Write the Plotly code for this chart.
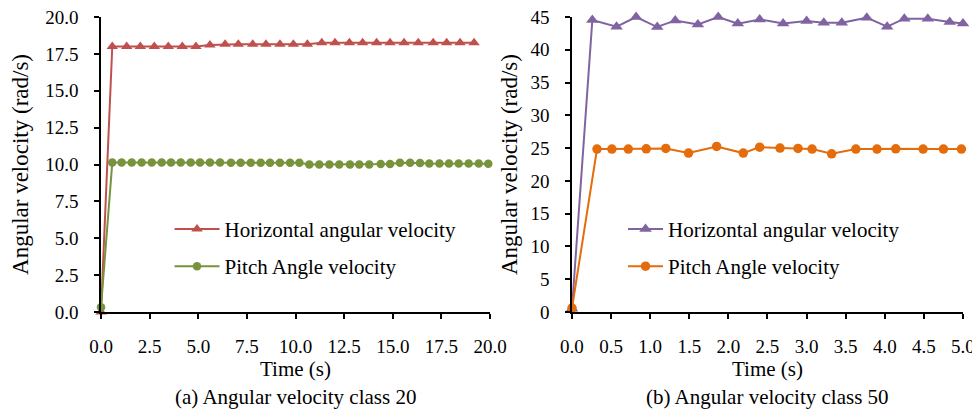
import plotly.graph_objects as go

# ---- data ----
# (a) Angular velocity class 20
t_h20 = [0.0, 0.58, 1.32, 2.02, 2.74, 3.46, 4.18, 4.88, 5.60, 6.38, 7.06, 7.80, 8.48, 9.20, 9.89,
         10.61, 11.35, 12.03, 12.77, 13.45, 14.17, 14.86, 15.58, 16.31, 17.08, 17.77, 18.46, 19.18]
v_h20 = [0.0, 18.0, 18.0, 18.0, 18.0, 18.0, 18.0, 18.0, 18.1, 18.15, 18.15, 18.15, 18.15, 18.15, 18.15,
         18.15, 18.25, 18.25, 18.25, 18.25, 18.25, 18.25, 18.25, 18.25, 18.25, 18.25, 18.25, 18.25]
t_p20 = [0.0, 0.58, 1.06, 1.58, 2.09, 2.61, 3.12, 3.60, 4.10, 4.61, 5.09, 5.60, 6.12, 6.68, 7.18,
         7.70, 8.21, 8.69, 9.20, 9.72, 10.20, 10.71, 11.22, 11.74, 12.25, 12.80, 13.28, 13.79, 14.38,
         14.86, 15.37, 15.89, 16.40, 16.88, 17.40, 17.89, 18.39, 18.90, 19.42, 19.91]
v_p20 = [0.32, 10.13, 10.13, 10.13, 10.13, 10.13, 10.13, 10.13, 10.13, 10.13, 10.13, 10.13, 10.13, 10.12,
         10.12, 10.12, 10.12, 10.12, 10.12, 10.12, 10.12, 10.0, 10.0, 10.0, 10.0, 10.0, 10.0, 10.0, 10.03,
         10.03, 10.12, 10.12, 10.1, 10.06, 10.06, 10.06, 10.06, 10.06, 10.06, 10.05]

# (b) Angular velocity class 50
t_h50 = [0.0, 0.26, 0.57, 0.82, 1.09, 1.32, 1.61, 1.87, 2.12, 2.40, 2.70, 3.00, 3.22, 3.45, 3.77,
         4.03, 4.25, 4.55, 4.83, 5.0]
v_h50 = [0.5, 44.54, 43.52, 45.0, 43.47, 44.48, 43.87, 45.0, 43.99, 44.63, 44.02, 44.39, 44.13, 44.13,
         44.9, 43.52, 44.74, 44.74, 44.24, 43.99]
t_p50 = [0.0, 0.32, 0.51, 0.72, 0.95, 1.20, 1.49, 1.85, 2.19, 2.40, 2.66, 2.89, 3.07, 3.32, 3.63,
         3.90, 4.14, 4.49, 4.75, 4.98]
v_p50 = [0.6, 24.85, 24.85, 24.85, 24.9, 24.95, 24.24, 25.26, 24.24, 25.15, 25.0, 24.95, 24.85, 24.13,
         24.85, 24.85, 24.9, 24.85, 24.85, 24.85]

name_h = "Horizontal angular velocity"
name_p = "Pitch Angle velocity"
caption_a = "(a) Angular velocity class 20"
caption_b = "(b) Angular velocity class 50"

FONT = "Liberation Serif"
RED, GREEN, PURPLE, ORANGE = "#C0504D", "#77933C", "#8064A2", "#E46C0A"

fig = go.Figure()
fig.add_trace(go.Scatter(x=t_h20, y=v_h20, name=name_h, mode="lines+markers",
                         line=dict(color=RED, width=2), legendgroup="a1",
                         marker=dict(symbol="triangle-up", size=10, color=RED),
                         cliponaxis=False, xaxis="x", yaxis="y", legend="legend"))
fig.add_trace(go.Scatter(x=t_p20, y=v_p20, name=name_p, mode="lines+markers",
                         line=dict(color=GREEN, width=2), legendgroup="a2",
                         marker=dict(symbol="circle", size=8.5, color=GREEN),
                         cliponaxis=False, xaxis="x", yaxis="y", legend="legend"))
fig.add_trace(go.Scatter(x=t_h50, y=v_h50, name=name_h, mode="lines+markers",
                         line=dict(color=PURPLE, width=2), legendgroup="b1",
                         marker=dict(symbol="triangle-up", size=11, color=PURPLE),
                         cliponaxis=False, xaxis="x2", yaxis="y2", legend="legend2"))
fig.add_trace(go.Scatter(x=t_p50, y=v_p50, name=name_p, mode="lines+markers",
                         line=dict(color=ORANGE, width=2), legendgroup="b2",
                         marker=dict(symbol="circle", size=9.5, color=ORANGE),
                         cliponaxis=False, xaxis="x2", yaxis="y2", legend="legend2"))

axis_common = dict(showline=True, linecolor="black", linewidth=1.5, showgrid=False, zeroline=False,
                   ticks="outside", ticklen=5, tickwidth=1.5, tickcolor="black", automargin=False,
                   ticklabeloverflow="allow",
                   tickfont=dict(family=FONT, size=19, color="black"))

# the page puts the figure 8 px in from the top-left corner (body margin), so the
# figure is sized to fit the window without any scrolling
fig.update_layout(
    width=972, height=402,
    margin=dict(l=93, r=17, t=9, b=98),
    paper_bgcolor="white", plot_bgcolor="white",
    font=dict(family=FONT, color="black"),
    xaxis=dict(domain=[0, 0.4513], range=[0, 20], dtick=2.5, tickformat=".1f",
               ticklabelstandoff=11, anchor="y",
               title=dict(text="Time (s)", font=dict(family=FONT, size=21), standoff=6), **axis_common),
    yaxis=dict(range=[0, 20], dtick=2.5, tickformat=".1f", anchor="x", ticklabelstandoff=12,
               title=dict(text="Angular velocity (rad/s)", font=dict(family=FONT, size=23), standoff=13),
               **axis_common),
    xaxis2=dict(domain=[0.5464, 1], range=[0, 5], dtick=0.5, tickformat=".1f",
                ticklabelstandoff=11, anchor="y2",
                title=dict(text="Time (s)", font=dict(family=FONT, size=21), standoff=6), **axis_common),
    yaxis2=dict(range=[0, 45], dtick=5, anchor="x2", ticklabelstandoff=12,
                title=dict(text="Angular velocity (rad/s)", font=dict(family=FONT, size=23), standoff=6),
                **axis_common),
    legend=dict(x=0.0795, y=0.35, xanchor="left", yanchor="top", bgcolor="rgba(0,0,0,0)",
                font=dict(family=FONT, size=21), tracegroupgap=7, itemwidth=45),
    legend2=dict(x=0.6056, y=0.35, xanchor="left", yanchor="top", bgcolor="rgba(0,0,0,0)",
                 font=dict(family=FONT, size=21), tracegroupgap=7, itemwidth=35),
    annotations=[
        dict(text=caption_a, x=0.2256, y=-0.288, xref="paper", yref="paper", showarrow=False,
             xanchor="center", yanchor="middle", font=dict(family=FONT, size=21)),
        dict(text=caption_b, x=0.7732, y=-0.288, xref="paper", yref="paper", showarrow=False,
             xanchor="center", yanchor="middle", font=dict(family=FONT, size=21)),
    ],
)

fig.write_html("out.html")
